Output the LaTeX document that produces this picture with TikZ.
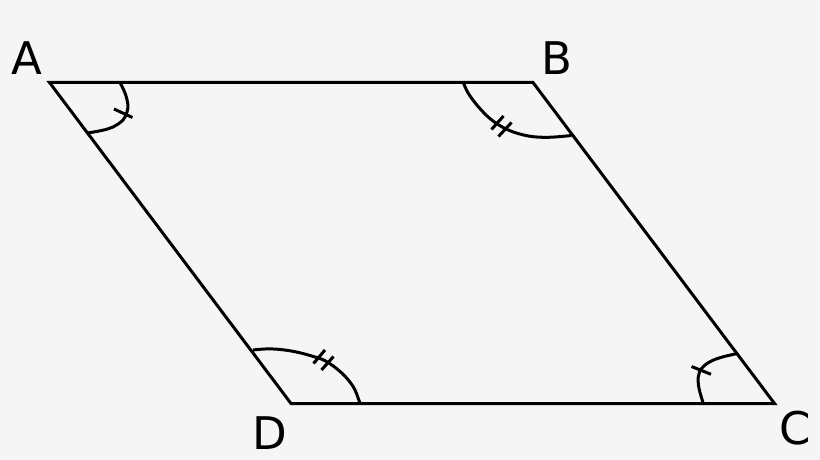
\documentclass[tikz,border=0pt]{standalone}
\usepackage{fontspec}
\setmainfont{DejaVu Sans}
\definecolor{bgc}{RGB}{245,245,245}
\begin{document}
\begin{tikzpicture}[x=1pt,y=-1pt,
  edge/.style={line width=3pt},
  anglemark/.style={line width=3pt},
  tickmark/.style={line width=3pt},
  lbl/.style={anchor=base,inner sep=0pt,font=\fontsize{45}{54}\selectfont}]
\fill[bgc] (0,0) rectangle (820,460);
\useasboundingbox (0,0) rectangle (820,460);
\coordinate (A) at (49.5,82.5);
\coordinate (B) at (533,82.5);
\coordinate (C) at (774.5,403.5);
\coordinate (D) at (291,403.5);
\draw[edge] (A) -- (B) -- (C) -- (D) -- cycle;
% angle arcs
\draw[anglemark] plot[smooth,tension=0.6] coordinates {(120,82.5) (125,93) (127.8,104) (127,112) (123,120) (113,127) (101.5,130.5) (87.5,133)};
\draw[anglemark] plot[smooth,tension=0.6] coordinates {(463.3,82.5) (468.3,93.3) (478.3,106.7) (491.7,120) (508.3,130) (528.3,136) (548.3,137.3) (571.5,135.5)};
\draw[anglemark] plot[smooth,tension=0.6] coordinates {(253,350) (265,349) (278.3,349.3) (295,351.7) (311.7,356) (325,360.7) (338.3,370) (348.3,380) (355,390) (360,403.5)};
\draw[anglemark] plot[smooth,tension=0.6] coordinates {(737.5,353.5) (721.7,357.2) (710,361.7) (701.7,368.3) (698.3,376.7) (699,388.3) (703.3,403.5)};
% tick marks
\draw[tickmark] (114,109) -- (132.5,117.5);
\draw[tickmark] (491.5,129.5) -- (503.5,116);
\draw[tickmark] (498.5,136.5) -- (511.5,122.5);
\draw[tickmark] (313.5,363.5) -- (325,350);
\draw[tickmark] (321.5,370) -- (333.5,356.5);
\draw[tickmark] (691.5,366.5) -- (711,374.3);
% labels
\node[lbl] (lA) at (27,75) {A};
\node[lbl] (lB) at (556.7,75) {B};
\node[lbl] (lC) at (795.3,444) {C};
\node[lbl] (lD) at (270,449.3) {D};
\end{tikzpicture}
\end{document}
